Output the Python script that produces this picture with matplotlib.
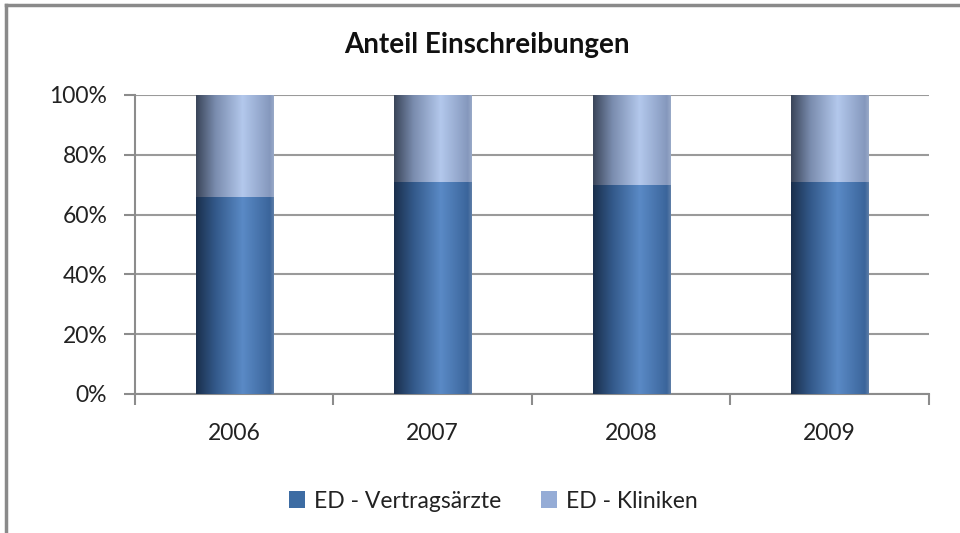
import numpy as np
import matplotlib
matplotlib.use("Agg")
import matplotlib.pyplot as plt
from matplotlib.colors import LinearSegmentedColormap

plt.rcParams['font.family'] = ['Lato', 'DejaVu Sans']

years = ['2006', '2007', '2008', '2009']
vertragsaerzte = [66, 71, 70, 71]
kliniken = [100 - v for v in vertragsaerzte]
yticks = [0, 20, 40, 60, 80, 100]

# gradient colours (left edge -> highlight -> right edge)
dark_cm = LinearSegmentedColormap.from_list(
    'dark', [(0.0, '#1a2f4c'), (0.25, '#33598a'), (0.6, '#5a8ac6'), (0.95, '#3b659b'), (1.0, '#5f7fa8')])
light_cm = LinearSegmentedColormap.from_list(
    'light', [(0.0, '#3a4559'), (0.25, '#7a8cae'), (0.6, '#b3c8ec'), (0.95, '#8598bd'), (1.0, '#9aaac8')])

fig = plt.figure(figsize=(9.6, 5.33), dpi=100)
ax = fig.add_axes([0.1406, 0.2608, 0.8271, 0.561])

x = np.arange(len(years))
b1 = ax.bar(x, vertragsaerzte, width=0.39, color='#3d6ca3', label='ED - Vertragsärzte', zorder=2)
b2 = ax.bar(x, kliniken, width=0.39, bottom=vertragsaerzte, color='#95acd6', label='ED - Kliniken', zorder=2)

grad = np.linspace(0, 1, 256).reshape(1, -1)
for bars, cm in [(b1, dark_cm), (b2, light_cm)]:
    for p in bars:
        x0, y0 = p.get_x(), p.get_y()
        w, h = p.get_width(), p.get_height()
        im = ax.imshow(grad, cmap=cm, extent=(x0, x0 + w, y0, y0 + h),
                       aspect='auto', zorder=3, interpolation='bilinear')
        im.set_clip_path(p)

ax.set_xlim(-0.5, len(years) - 0.5)
ax.set_ylim(0, 100)
ax.set_yticks(yticks)
ax.set_yticklabels([f'{t}%' for t in yticks])
ax.set_xticks(x)
ax.set_xticklabels(years)
ax.set_xticks(np.arange(len(years) + 1) - 0.5, minor=True)
ax.tick_params(axis='x', which='major', length=0, pad=21, labelsize=16.5, colors='#222222')
ax.tick_params(axis='x', which='minor', length=8, width=1.5, color='#8c8c8c', direction='out')
ax.tick_params(axis='y', length=8, width=1.5, color='#8c8c8c', direction='out', pad=12,
               labelsize=16.5, labelcolor='#222222')

ax.yaxis.grid(True, color='#9a9a9a', linewidth=1.5, zorder=0)
ax.set_axisbelow(True)
for s in ['top', 'right']:
    ax.spines[s].set_visible(False)
for s in ['left', 'bottom']:
    ax.spines[s].set_color('#8c8c8c')
    ax.spines[s].set_linewidth(1.5)

fig.text(0.507, 0.915, 'Anteil Einschreibungen', ha='center', va='center',
         fontsize=20, fontweight='bold', color='#111111')

leg = fig.legend(handles=[b1, b2], loc='center', bbox_to_anchor=(0.514, 0.06), ncol=2,
                 frameon=False, fontsize=16.5, handlelength=0.7, handleheight=0.7,
                 columnspacing=1.75, handletextpad=0.4)
for t in leg.get_texts():
    t.set_color('#222222')

# outer chart frame (top and left edges visible)
fig.add_artist(plt.Line2D([0.0065, 1.0], [0.9915, 0.9915], transform=fig.transFigure,
                          color='#8a8a8a', linewidth=2.5))
fig.add_artist(plt.Line2D([0.0065, 0.0065], [0.0, 0.9915], transform=fig.transFigure,
                          color='#8a8a8a', linewidth=2.5))

fig.savefig('out.png', dpi=100)
